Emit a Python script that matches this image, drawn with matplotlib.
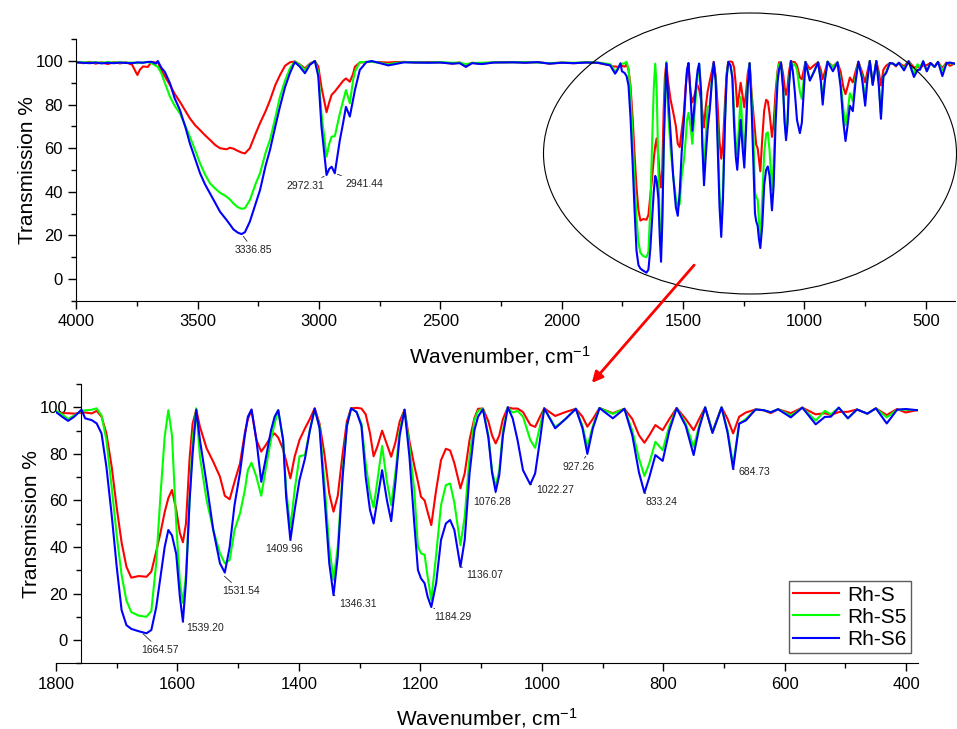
import matplotlib
matplotlib.use("Agg")
import matplotlib.pyplot as plt
from matplotlib.patches import Ellipse, FancyArrowPatch
from matplotlib.ticker import MultipleLocator

plt.rcParams['font.family'] = ['Liberation Sans', 'DejaVu Sans']
plt.rcParams['mathtext.default'] = 'regular'

# --- data: wavenumber (cm-1) and transmission (%) ---
# high-wavenumber part (4000 - 1850)
wn_high = [4000, 3970, 3945, 3920, 3895, 3870, 3845, 3820, 3795, 3770, 3755, 3748, 3738, 3725,
           3705, 3690, 3672, 3664, 3650, 3635, 3614, 3595, 3573, 3550, 3532, 3510, 3490, 3470,
           3449, 3428, 3408, 3381, 3367, 3353, 3335, 3319, 3305, 3285, 3260, 3243, 3220, 3202,
           3180, 3161, 3140, 3120, 3100, 3080, 3058, 3038, 3017, 3003, 2990, 2969, 2958, 2948,
           2935, 2914, 2900, 2889, 2873, 2860, 2852, 2832, 2805, 2783, 2755, 2715, 2690, 2650,
           2600, 2550, 2500, 2450, 2420, 2395, 2370, 2330, 2280, 2200, 2150, 2100, 2050, 2000,
           1950, 1900, 1850]
rh_s_high = [99.5, 99.0, 99.6, 98.8, 99.4, 98.6, 99.5, 98.9, 99.4, 98.3, 95.0, 93.6, 96.0, 97.5,
             97.3, 99.6, 99.3, 99.5, 96.0, 93.0, 89.0, 85.0, 81.3, 77.0, 73.7, 70.5, 68.3, 66.0,
             63.8, 61.5, 60.0, 59.5, 60.2, 59.8, 58.8, 58.0, 57.6, 60.0, 67.0, 71.5, 77.0, 82.0,
             89.0, 93.5, 97.8, 99.4, 99.8, 98.5, 96.6, 98.8, 100.0, 97.5, 88.0, 76.5, 81.0, 84.5,
             86.0, 89.0, 91.0, 92.0, 90.5, 94.0, 97.4, 99.3, 99.5, 99.6, 99.5, 99.3, 99.5, 99.6,
             99.3, 99.5, 99.4, 98.8, 99.3, 97.5, 99.2, 98.7, 99.4, 99.5, 99.3, 99.5, 98.8, 99.3,
             99.0, 99.4, 99.1]
rh_s5_high = [99.5, 99.4, 99.3, 99.4, 99.2, 99.5, 99.3, 99.4, 99.2, 99.3, 99.1, 99.0, 99.2, 99.3,
              99.5, 99.0, 97.8, 97.3, 94.5, 90.0, 83.6, 79.5, 76.0, 70.0, 65.3, 59.0, 53.0, 48.0,
              43.9, 41.5, 39.6, 37.8, 36.5, 34.7, 33.0, 32.2, 32.5, 36.2, 44.0, 48.5, 58.0, 63.8,
              74.0, 83.6, 91.0, 96.6, 99.8, 98.3, 95.9, 98.5, 100.0, 95.0, 76.0, 56.1, 62.0, 65.3,
              65.5, 76.0, 82.0, 86.7, 80.6, 91.0, 95.1, 99.5, 99.6, 99.6, 99.3, 98.5, 99.0, 99.5,
              99.4, 99.3, 99.5, 99.2, 99.3, 98.5, 99.1, 99.2, 99.4, 99.4, 99.5, 99.3, 99.0, 99.3,
              99.2, 99.4, 99.3]
rh_s6_high = [99.4, 99.2, 99.0, 99.3, 98.9, 99.2, 99.0, 99.3, 99.1, 99.0, 99.3, 99.4, 99.3, 99.2,
              99.6, 99.6, 98.8, 100.0, 97.0, 95.0, 89.8, 83.0, 77.5, 69.5, 62.2, 55.0, 48.5, 43.5,
              39.3, 35.0, 30.9, 27.1, 25.0, 22.8, 21.3, 20.6, 21.5, 26.3, 35.0, 40.8, 52.0, 59.2,
              70.0, 79.0, 88.0, 94.4, 99.5, 97.5, 94.4, 98.2, 100.0, 93.0, 70.0, 47.7, 50.5, 51.5,
              48.5, 63.8, 72.0, 79.0, 74.5, 82.0, 86.7, 95.9, 99.5, 100.0, 99.2, 98.0, 98.5, 99.4,
              99.3, 99.2, 99.3, 98.8, 99.0, 97.3, 99.0, 98.6, 99.3, 99.4, 99.2, 99.5, 98.8, 99.2,
              99.0, 99.3, 99.2]

# fingerprint part (1800 - 382)
wn_low = [1800, 1790, 1780, 1770, 1758, 1752, 1741, 1733, 1725, 1717, 1708, 1700, 1692, 1684,
          1676, 1664, 1651, 1643, 1635, 1628, 1621, 1615, 1609, 1602, 1596, 1591, 1586, 1580,
          1575, 1569, 1563, 1552, 1541, 1530, 1522, 1514, 1506, 1497, 1489, 1484, 1478, 1470,
          1462, 1454, 1446, 1440, 1434, 1426, 1421, 1414, 1407, 1399, 1390, 1382, 1374, 1366,
          1358, 1350, 1343, 1336, 1328, 1321, 1314, 1305, 1297, 1290, 1283, 1277, 1271, 1263,
          1255, 1248, 1241, 1234, 1226, 1218, 1210, 1204, 1199, 1193, 1188, 1182, 1174, 1166,
          1158, 1151, 1144, 1134, 1127, 1119, 1111, 1105, 1097, 1088, 1082, 1076, 1070, 1064,
          1056, 1048, 1040, 1031, 1019, 1011, 1003, 996, 978, 961, 944, 933, 925, 916,
          905, 883, 864, 851, 840, 831, 823, 813, 801, 790, 778, 763, 750, 741,
          731, 719, 704, 694, 685, 675, 664, 648, 635, 623, 611, 590, 571, 549,
          534, 524, 511, 496, 481, 464, 450, 432, 415, 401, 382]
rh_s_low = [98.0, 97.5, 97.5, 97.3, 97.7, 97.8, 97.4, 98.5, 96.0, 88.8, 74.0, 57.0, 42.0, 31.5,
            26.8, 27.5, 27.2, 29.4, 38.0, 46.0, 55.0, 61.0, 64.5, 56.0, 46.0, 42.0, 50.0, 78.0,
            93.0, 99.0, 91.7, 82.4, 76.6, 70.2, 62.0, 60.5, 68.0, 75.9, 89.0, 95.0, 98.8, 86.0,
            81.0, 84.0, 87.5, 88.8, 87.0, 82.0, 77.0, 69.5, 78.8, 86.0, 91.0, 95.0, 99.6, 93.0,
            80.0, 63.0, 55.2, 62.0, 80.0, 94.0, 99.6, 99.8, 99.5, 97.0, 89.0, 79.0, 83.0, 90.0,
            84.0, 78.8, 85.0, 94.0, 99.0, 85.5, 75.0, 68.0, 61.6, 60.0, 55.0, 49.4, 64.5, 77.3,
            82.2, 81.5, 76.0, 65.2, 71.6, 86.0, 95.4, 99.4, 99.5, 94.0, 88.0, 84.5, 88.0, 95.0,
            100.0, 99.5, 99.5, 98.0, 92.5, 91.6, 96.0, 99.6, 96.3, 98.0, 99.4, 96.0, 91.7, 95.0,
            99.7, 97.5, 99.4, 95.0, 88.0, 84.8, 88.0, 92.4, 90.2, 95.0, 99.7, 95.0, 90.2, 95.0,
            100.0, 89.5, 100.0, 95.0, 88.8, 96.0, 97.8, 99.1, 98.8, 97.5, 99.2, 97.5, 99.9, 97.0,
            97.5, 96.7, 98.0, 98.1, 99.1, 97.3, 99.6, 96.7, 99.3, 97.8, 98.8]
rh_s5_low = [98.5, 97.0, 95.0, 96.5, 98.5, 98.7, 99.0, 99.6, 96.5, 86.0, 65.0, 45.0, 28.0, 17.0,
             12.0, 10.5, 10.0, 12.5, 33.0, 62.0, 87.4, 98.8, 88.0, 50.0, 25.0, 16.0, 28.0, 60.0,
             86.0, 99.6, 78.8, 60.2, 47.3, 37.3, 33.0, 34.4, 47.3, 54.4, 64.5, 73.1, 76.2, 70.2,
             62.0, 74.5, 86.0, 93.0, 98.8, 86.0, 64.5, 48.4, 64.5, 79.0, 79.5, 90.2, 98.8, 92.0,
             68.0, 40.0, 25.8, 40.0, 72.0, 92.0, 99.6, 98.0, 93.0, 76.0, 63.0, 57.0, 68.0, 83.4,
             68.0, 58.0, 72.0, 90.0, 99.0, 83.0, 64.5, 40.1, 37.3, 36.6, 27.2, 17.2, 36.6, 58.0,
             66.6, 67.3, 59.0, 40.8, 53.0, 78.8, 94.5, 98.5, 99.5, 88.0, 73.0, 65.9, 73.0, 90.0,
             100.0, 97.8, 98.5, 96.0, 86.0, 82.6, 92.0, 99.6, 91.5, 95.0, 99.4, 92.0, 83.0, 92.0,
             99.7, 97.2, 99.4, 90.0, 78.0, 70.5, 76.0, 85.2, 81.6, 92.0, 99.7, 93.0, 83.0, 92.0,
             100.0, 89.5, 100.0, 90.0, 75.2, 93.0, 95.0, 99.1, 98.8, 97.9, 99.2, 96.5, 99.9, 94.3,
             98.5, 97.0, 99.9, 95.3, 99.1, 97.3, 99.6, 95.7, 99.0, 99.0, 98.8]
rh_s6_low = [98.0, 96.0, 94.2, 96.0, 99.0, 95.3, 94.5, 93.1, 88.8, 74.5, 53.0, 31.5, 12.9, 6.4,
             4.8, 3.8, 2.9, 4.3, 14.0, 27.0, 40.0, 47.3, 45.0, 37.0, 18.6, 7.9, 25.0, 60.0,
             80.0, 99.0, 86.0, 67.3, 47.3, 33.0, 29.0, 40.0, 58.0, 72.0, 88.0, 96.0, 99.1, 86.0,
             68.0, 78.8, 90.0, 96.0, 98.8, 86.0, 61.6, 43.0, 55.9, 68.8, 78.0, 90.0, 99.5, 91.0,
             62.0, 33.0, 19.3, 36.0, 70.0, 92.0, 99.6, 98.0, 92.0, 70.0, 56.0, 50.1, 60.0, 73.0,
             60.0, 51.1, 68.0, 88.0, 99.0, 78.8, 50.1, 30.1, 26.5, 24.4, 18.6, 14.2, 24.4, 43.0,
             50.1, 51.6, 47.3, 31.5, 43.0, 71.6, 90.2, 96.0, 99.2, 87.0, 72.0, 63.7, 71.0, 88.0,
             100.0, 95.3, 86.0, 73.0, 66.9, 71.6, 86.0, 99.6, 91.0, 95.0, 99.4, 91.0, 80.0, 91.0,
             99.7, 95.3, 99.4, 88.0, 72.0, 63.3, 70.0, 79.5, 77.0, 90.0, 99.7, 92.0, 79.5, 91.0,
             100.0, 89.0, 100.0, 89.0, 73.5, 93.0, 94.4, 99.1, 98.8, 97.9, 99.2, 95.7, 99.9, 92.7,
             95.9, 96.0, 99.9, 95.3, 99.1, 97.3, 99.6, 93.1, 99.0, 99.3, 98.8]

series_names = ['Rh-S', 'Rh-S5', 'Rh-S6']
series_colors = ['#ff0000', '#00ff00', '#0000ff']

# peak labels: (text, peak wavenumber, peak T, text wavenumber, text T)
top_labels = [('3336.85', 3319, 20.6, 3346, 13.2),
              ('2972.31', 2969, 47.7, 3133, 42.7),
              ('2941.44', 2935, 48.5, 2893, 43.6)]
bottom_labels = [('1664.57', 1660, 3.5, 1659, -4.3),
                 ('1539.20', 1591, 7.9, 1585, 5.0),
                 ('1531.54', 1526, 28.2, 1526, 21.0),
                 ('1409.96', 1413, 43.0, 1455, 39.0),
                 ('1346.31', 1343, 19.3, 1334, 15.5),
                 ('1184.29', 1182, 14.2, 1178, 9.9),
                 ('1136.07', 1134, 31.5, 1124, 28.0),
                 ('1076.28', 1076, 63.7, 1113, 59.3),
                 ('1022.27', 1019, 66.9, 1010, 64.7),
                 ('927.26', 925, 80.0, 966, 74.3),
                 ('833.24', 831, 63.3, 829, 59.4),
                 ('684.73', 685, 73.5, 676, 72.3)]

wavenumber = wn_high + wn_low
curves = [rh_s_high + rh_s_low, rh_s5_high + rh_s5_low, rh_s6_high + rh_s6_low]

fig = plt.figure(figsize=(9.57, 7.29), dpi=100)
ax1 = fig.add_axes([0.0797, 0.5874, 0.9182, 0.3588])
ax2 = fig.add_axes([0.0585, 0.0901, 0.9011, 0.383])

for ax in (ax1, ax2):
    for vals, name, col in zip(curves, series_names, series_colors):
        ax.plot(wavenumber, vals, color=col, lw=1.5, label=name)
    ax.set_ylim(-10, 110)
    ax.yaxis.set_major_locator(MultipleLocator(20))
    ax.yaxis.set_minor_locator(MultipleLocator(10))
    ax.spines['top'].set_visible(False)
    ax.spines['right'].set_visible(False)
    ax.tick_params(which='major', direction='out', length=6, width=1, labelsize=12)
    ax.tick_params(which='minor', direction='out', length=3.5, width=1)
    ax.set_ylabel('Transmission %', fontsize=15, labelpad=-1)

ax1.set_xlabel('Wavenumber, cm$^{-1}$', fontsize=15, labelpad=11)
ax1.xaxis.label.set_x(0.482)
ax2.set_xlabel('Wavenumber, cm$^{-1}$', fontsize=15, labelpad=10.5)

ax1.set_xlim(4000, 380)
ax1.xaxis.set_major_locator(MultipleLocator(500))
ax1.xaxis.set_minor_locator(MultipleLocator(250))

ax2.set_xlim(1800, 380)
ax2.xaxis.set_major_locator(MultipleLocator(200))
ax2.xaxis.set_minor_locator(MultipleLocator(100))
ax2.spines['left'].set_position(('data', 1759))

for ax, labels in ((ax1, top_labels), (ax2, bottom_labels)):
    for txt, px, py, tx, ty in labels:
        ax.annotate(txt, xy=(px, py), xytext=(tx, ty), fontsize=7.5, color='#222222',
                    ha='left', va='center',
                    arrowprops=dict(arrowstyle='-', lw=0.6, color='#222222',
                                    shrinkA=1, shrinkB=2))

ax2.legend(loc='lower right', bbox_to_anchor=(0.9912, 0.0369), fontsize=15,
           frameon=True, fancybox=False, edgecolor='#333333', handlelength=2.2,
           labelspacing=0.15, borderpad=0.2, handletextpad=0.4, borderaxespad=0)

# the circled region and the arrow pointing to the zoomed panel
ell = Ellipse((750 / 957, 1 - 153.5 / 729), 413 / 957, 281 / 729,
              transform=fig.transFigure, fill=False, edgecolor='black', lw=0.8)
fig.patches.append(ell)
arr = FancyArrowPatch((696 / 957, 1 - 263 / 729), (590 / 957, 1 - 385 / 729),
                      transform=fig.transFigure, arrowstyle='-|>', mutation_scale=16,
                      color='#ff0000', lw=2)
fig.patches.append(arr)

fig.savefig('out.png', dpi=100)
